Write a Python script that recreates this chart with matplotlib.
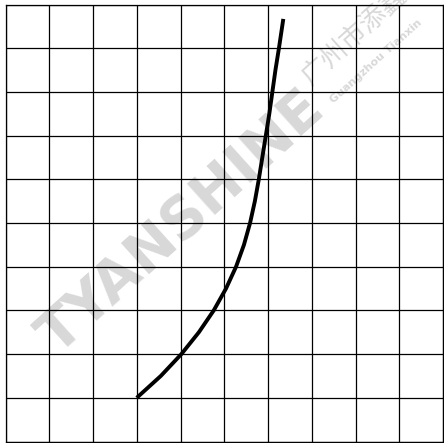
import matplotlib
matplotlib.use("Agg")
import matplotlib.pyplot as plt

# Curve (grid units, 10x10 grid)
curve_x = [3.0, 3.55, 4.02, 4.42, 4.76, 5.04, 5.27, 5.45, 5.59, 5.70, 5.79, 5.87, 5.95, 6.03, 6.10, 6.17, 6.25, 6.35]
curve_y = [1.0, 1.5, 2.0, 2.5, 3.0, 3.5, 4.0, 4.5, 5.0, 5.5, 6.0, 6.5, 7.0, 7.5, 8.0, 8.5, 9.0, 9.67]
grid_ticks = list(range(0, 11))

watermark_main = "TYANSHINE"
watermark_cn = "广州市添鑫"
watermark_en = "Guangzhou Tianxin"

W, H = 444, 443
fig = plt.figure(figsize=(W / 100, H / 100), dpi=100)
ax = fig.add_axes([5.5 / W, (H - 441.5) / H, (443 - 5.5) / W, (441.5 - 4.5) / H])
ax.set_xlim(grid_ticks[0], grid_ticks[-1])
ax.set_ylim(grid_ticks[0], grid_ticks[-1])
ax.set_xticks(grid_ticks)
ax.set_yticks(grid_ticks)
ax.tick_params(length=0, labelbottom=False, labelleft=False)
ax.grid(True, color="black", linewidth=0.9, zorder=1.5)
for s in ax.spines.values():
    s.set_color("black")
    s.set_linewidth(0.9)

ax.plot(curve_x, curve_y, color="black", linewidth=2.8, solid_capstyle="butt",
        solid_joinstyle="round", zorder=3)

wm_color = "#d8d8d8"
ax.text(0.405, 0.50, watermark_main, transform=ax.transAxes, rotation=42,
        rotation_mode="anchor", ha="center", va="center", fontsize=41,
        fontweight="bold", family="DejaVu Sans", color=wm_color, zorder=1)
ax.text(0.705, 0.805, watermark_cn, transform=ax.transAxes, rotation=42,
        rotation_mode="anchor", ha="left", va="bottom", fontsize=19,
        family=["Noto Sans CJK SC", "DejaVu Sans"], color=wm_color, zorder=1,
        clip_on=False)
ax.text(0.752, 0.77, watermark_en, transform=ax.transAxes, rotation=42,
        rotation_mode="anchor", ha="left", va="bottom", fontsize=8,
        fontweight="bold", family="DejaVu Sans", color=wm_color, zorder=1,
        clip_on=False)

fig.savefig("out.png", dpi=100)
